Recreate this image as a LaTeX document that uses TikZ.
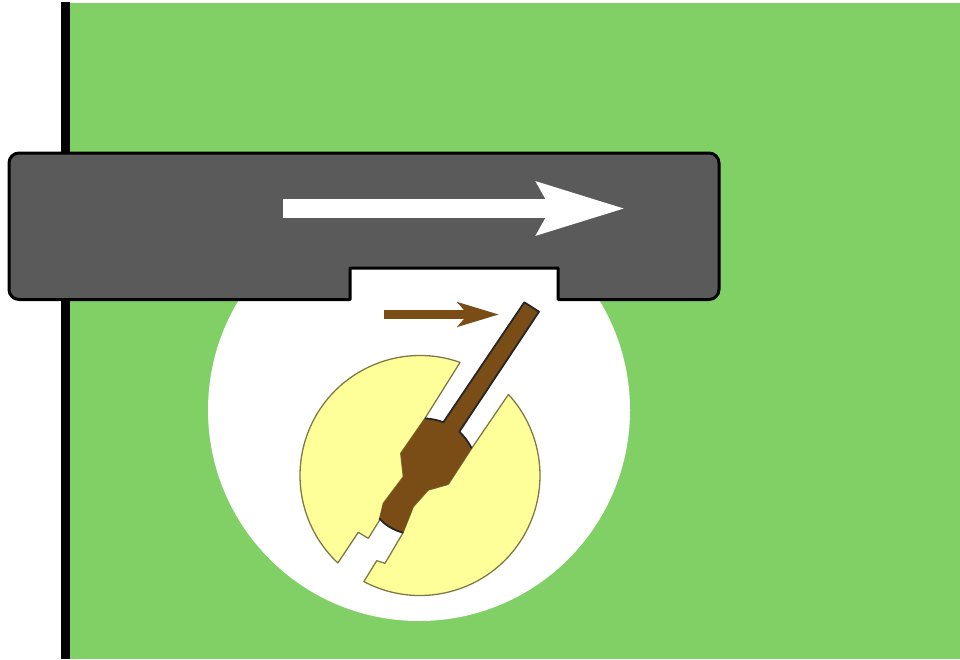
\documentclass[tikz,border=0pt]{standalone}
\usepackage{xcolor}
\usetikzlibrary{arrows.meta}
\definecolor{fieldgreen}{HTML}{80D066}
\definecolor{slidegray}{HTML}{5A5A5A}
\definecolor{discyellow}{HTML}{FFFF99}
\definecolor{discedge}{HTML}{7F7A45}
\definecolor{pinbrown}{HTML}{7A4D16}
\begin{document}
\begin{tikzpicture}[
    x=1pt, y=-1pt,
    disc/.style={fill=discyellow, draw=discedge, line width=1.3pt, line join=round},
    pinedge/.style={draw=black!85, line width=1.8pt, line join=round},
    slide/.style={fill=slidegray, draw=black, line width=3pt, line join=round},
    bigarrow/.style={white, line width=19pt, -{Stealth[length=87pt, width=50pt, inset=12pt]}},
    smallarrow/.style={pinbrown, line width=9pt, -{Stealth[length=41pt, width=24pt, inset=10pt]}}
  ]
  \useasboundingbox (0,0) rectangle (960,659);
  % Background
  \fill[fieldgreen] (65,3) rectangle (960,659);
  \draw[line width=9pt] (65.5,2) -- (65.5,659);
  \fill[white] (419,410) circle (211pt);
  % Slide
  \draw[slide, rounded corners=10pt] (350,299.5) -- (9,299.5) -- (9,153) -- (719,153)
    -- (719,299.5) [sharp corners] -- (558,299.5) -- (558,268) -- (350,268) -- cycle;
  \coordinate (slidetail) at (283,208.5);
  \coordinate (slidetip) at (626,208.5);
  \draw[bigarrow] (slidetail) -- (slidetip);
  % Arrow beside the pin
  \coordinate (pintail) at (384,314.5);
  \coordinate (pintip) at (499,314.5);
  \draw[smallarrow] (pintail) -- (pintip);
  % Disc
  \coordinate (disccentre) at (420,475.5);
  \draw[disc] (disccentre) ++(70.5:120pt) arc (70.5:226.8:120pt)
    -- (358.3,532.3) -- (368.3,538.3) -- (379.3,520.7) -- (383.3,503.3)
    -- (403.3,476.7) -- (400.7,453.3) -- (425,418.3) -- cycle;
  \draw[disc] (disccentre) ++(242.1:120pt) arc (242.1:402.5:120pt)
    -- (471.7,448.3) -- (448.3,484.3) -- (428.3,490) -- (413.3,506.7)
    -- (402.7,533.3) -- (385,563.3) -- (376.7,560.7) -- cycle;
  % Pin
  \fill[pinbrown] (524.3,302.3) -- (539,311.7) -- (459.3,431.7)
    .. controls (465,437) and (469,443) .. (471.7,448.3)
    -- (448.3,484.3) -- (428.3,490) -- (413.3,506.7) -- (403.3,532.7)
    .. controls (393,530) and (385,525) .. (379.3,518.3)
    -- (383.3,503.3) -- (403.3,476.7) -- (400.7,453.3) -- (425,418.3)
    .. controls (432,419) and (438,420) .. (443.3,422.3) -- cycle;
  \draw[pinedge] (425,418.3) .. controls (432,419) and (438,420) .. (443.3,422.3)
    -- (524.3,302.3) -- (539,311.7) -- (459.3,431.7)
    .. controls (465,437) and (469,443) .. (471.7,448.3);
  \draw[pinedge] (403.3,532.7) .. controls (393,530) and (385,525) .. (379.3,518.3);
\end{tikzpicture}
\end{document}
